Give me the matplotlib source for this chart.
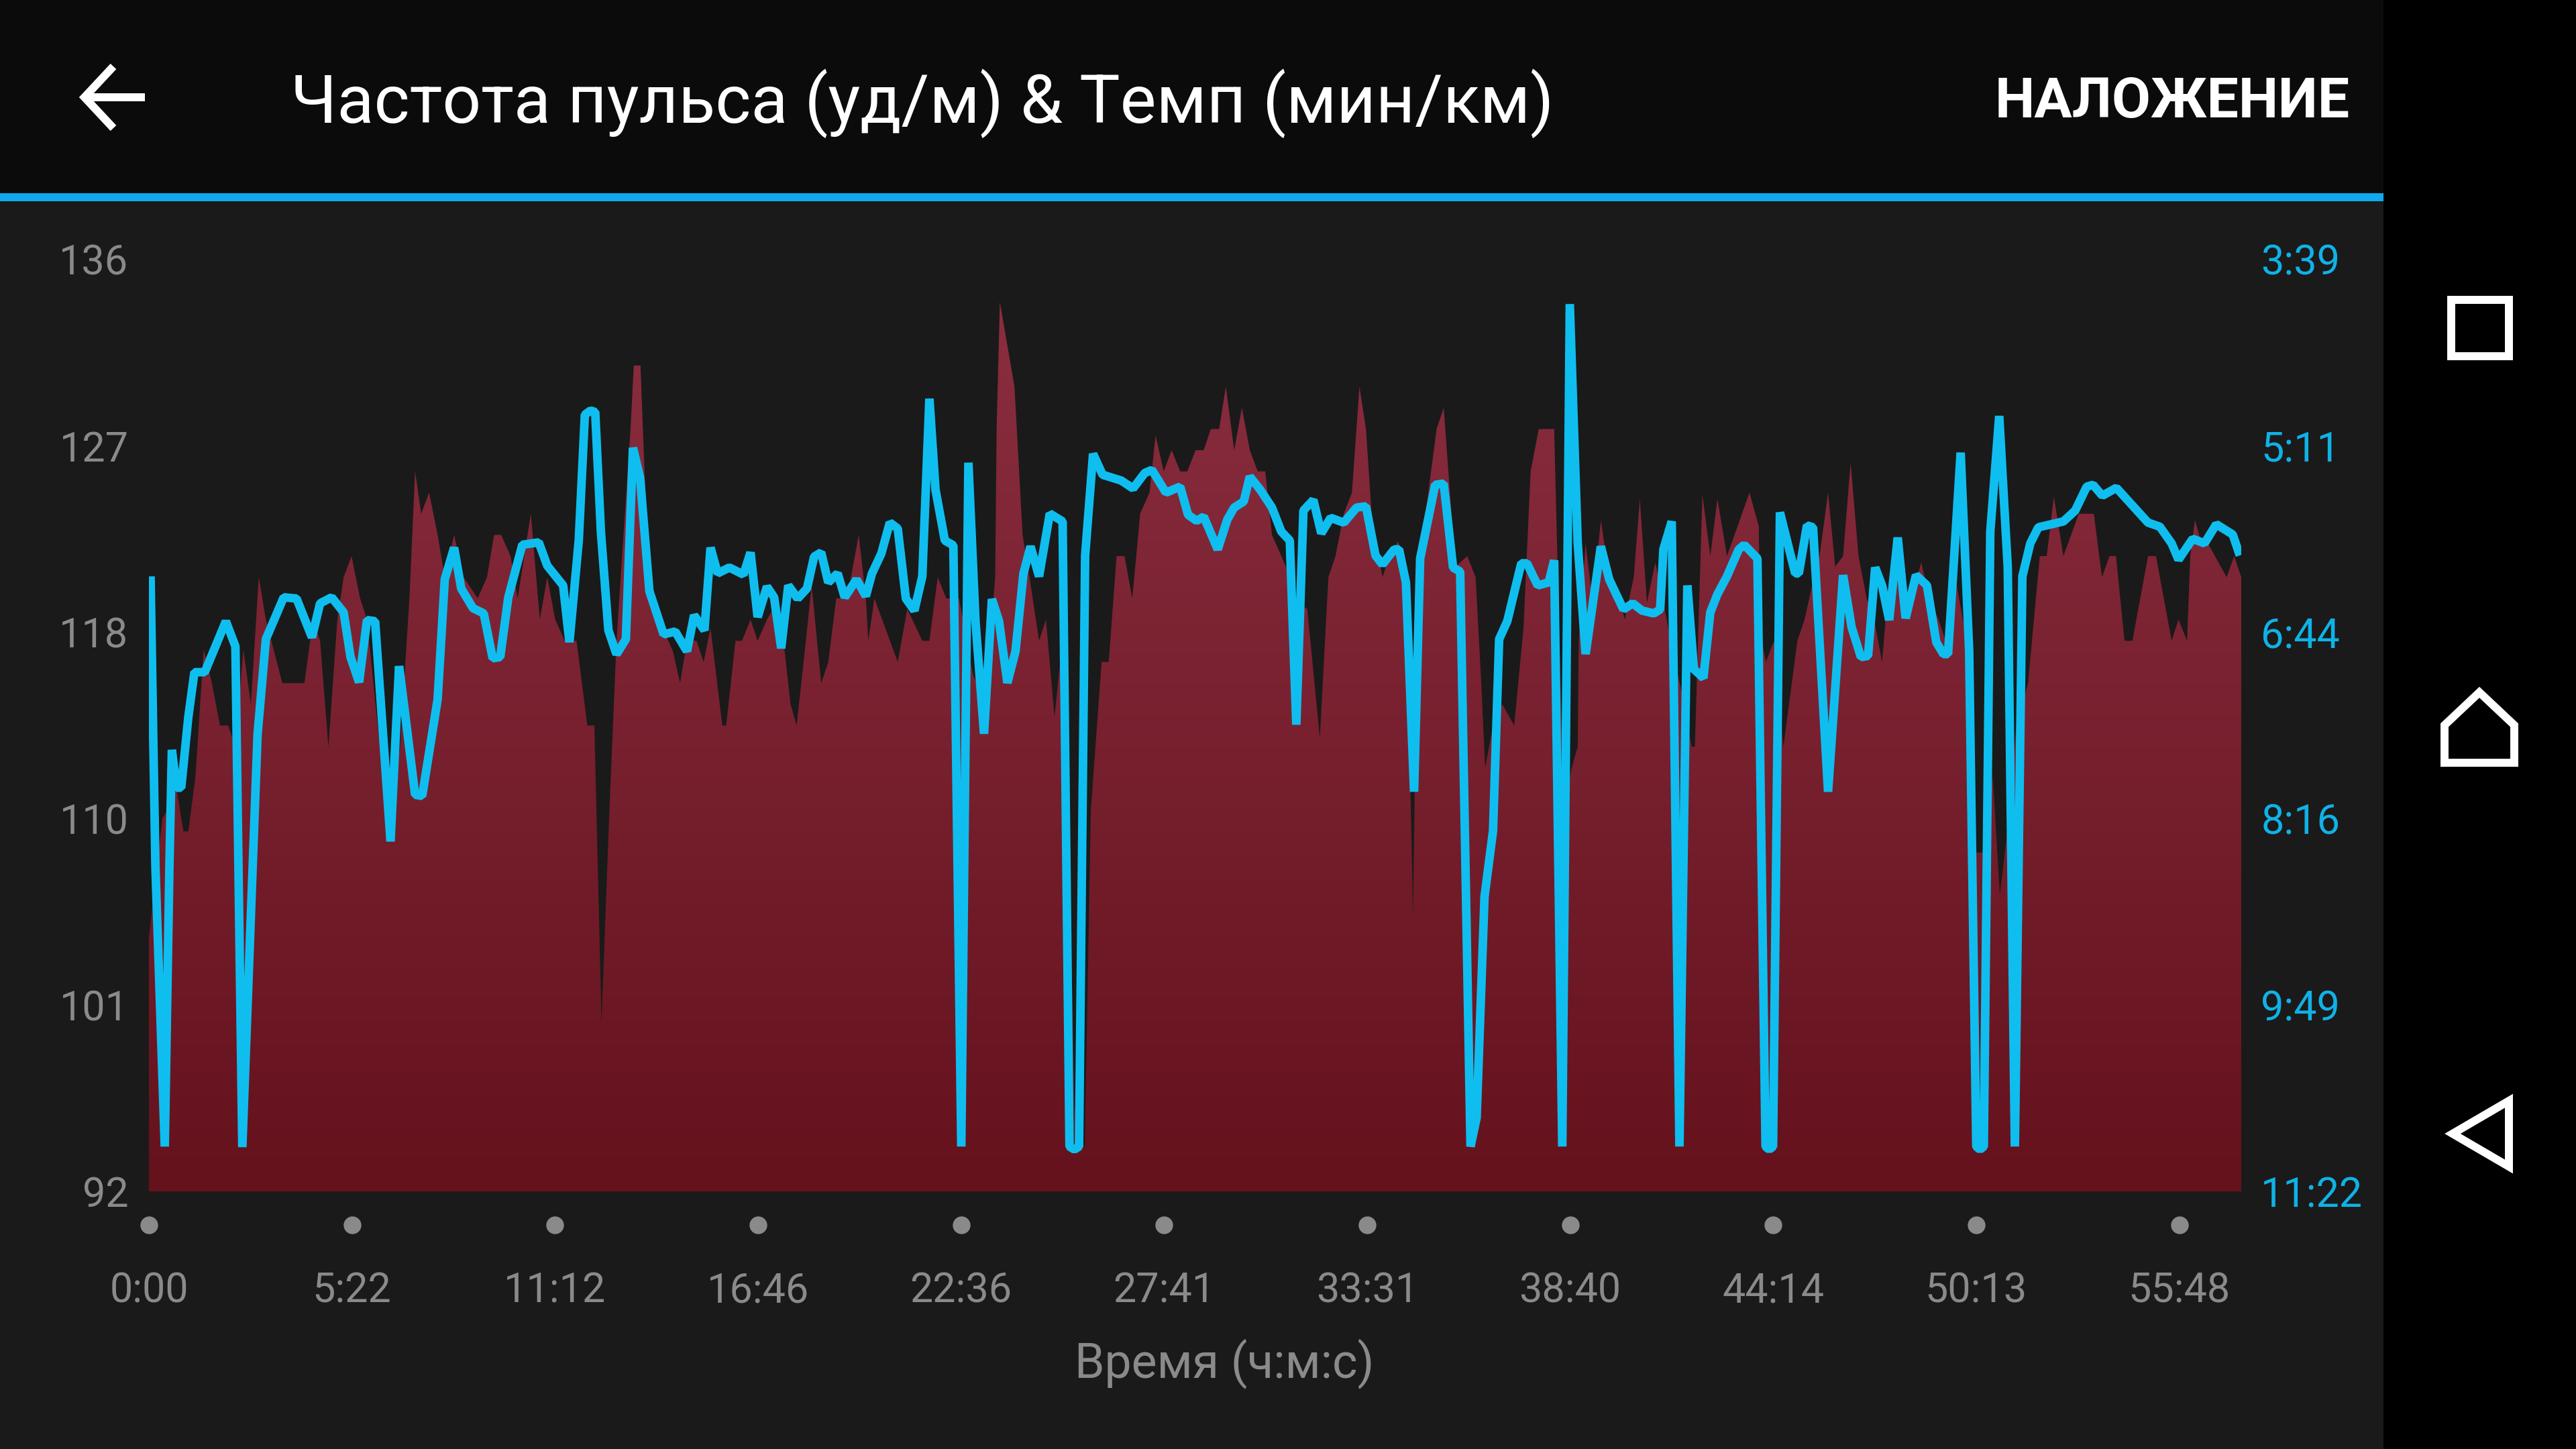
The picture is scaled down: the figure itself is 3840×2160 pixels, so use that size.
#!/usr/bin/env python3
import matplotlib

matplotlib.use("Agg")
import matplotlib.pyplot as plt
import numpy as np
from matplotlib.colors import LinearSegmentedColormap
from matplotlib.patches import Polygon, Rectangle

plt.rcParams["font.family"] = ["Roboto", "DejaVu Sans"]

TITLE = "Частота пульса (уд/м) & Темп (мин/км)"
ACTION = "НАЛОЖЕНИЕ"
X_LABEL = "Время (ч:м:с)"

# x axis is sample based, the time labels are not evenly spaced in real time
TIME_TICKS = [0, 100, 200, 300, 400, 500, 600, 700, 800, 900, 1000]
TIME_LABELS = ["0:00", "5:22", "11:12", "16:46", "22:36", "27:41", "33:31", "38:40", "44:14", "50:13", "55:48"]
X_END = 1030.5

HR_TICKS = [92, 100.8, 109.6, 118.4, 127.2, 136]
HR_LABELS = ["92", "101", "110", "118", "127", "136"]
PACE_TICKS = [682, 589.4, 496.8, 404.2, 311.6, 219]
PACE_LABELS = ["11:22", "9:49", "8:16", "6:44", "5:11", "3:39"]

hr_x = [
    0, 6.6, 9, 13.6, 17, 19.4, 22.9, 27, 31, 35, 39, 42.6, 46.5, 50.2, 54.1, 57.6, 65.7, 76.6, 80.8, 84.3,
    88.4, 92.8, 95.9, 99.8, 104, 107.4, 113.2, 119, 123.7, 128.3, 131.1, 134.1, 138, 142.2, 145.7, 150.3,
    155, 161.9, 166.5, 170, 173.5, 178.1, 181.6, 188.1, 192.5, 196.2, 200.1, 204.8, 210.6, 215.9, 219.4,
    222.9, 226.8, 230.3, 237.2, 238.8, 242.1, 244.2, 247.7, 253.5, 258.1, 261.6, 265, 269.7, 273.2, 276.6,
    282.4, 284.3, 288.9, 292.1, 296.3, 299.8, 304.4, 310.2, 316, 319, 323, 326.4, 331.1, 334.6, 338.5,
    343.8, 349.6, 353.1, 354.3,
    357.3, 368.8, 373.5, 380.9, 384.4, 388.5, 392.7, 399, 405.9, 411.7, 416.8, 417.5, 419.1, 426.3, 430.3,
    433.7, 438.4, 441.8, 446, 448.8, 452.3, 455.8, 460.9, 463.9, 469.2, 472.7, 476.6, 480.5, 484.3, 488.2,
    492.8, 495.8, 499.8, 503.7, 507.9, 511.4, 515.5, 519.5, 523, 527.1, 530.4, 534.5, 538.3, 542.2, 546.1,
    549.8, 553.1, 560, 565.8, 570.5, 576.7, 580.9, 584.4, 588.5, 592.5, 596.2, 599.4, 602.2, 607.5, 611,
    615.2, 619.1, 622.6, 624.9, 626, 634.2, 637.7, 640, 643.5, 649.3, 653.4, 656.2, 658.1, 662, 666.6,
    672.4, 677, 680.5, 684.5, 692.1, 696.8, 700.7, 703.7,
    704.2, 707.6, 711.1, 715.1, 719.2, 722.7, 726.9, 731.3, 734.3, 737.8, 741.9, 745.9, 750.5, 755.1,
    759.8, 761.4, 765.1, 769, 772.5, 777.2, 788.3, 792.9, 793.4, 796.4, 800.3, 805, 811.9, 815.4, 818.9,
    822.8, 827, 830.5, 834.4, 838.1, 842, 846, 849.7, 853.6, 857.1, 860.6, 865.2, 872.9, 876.8, 881.4,
    884.9, 889.6, 894.2, 900, 903.5, 908.1, 911.6, 915, 919.7, 925.5, 927.8, 931.3, 934.7, 938.2, 942.9,
    950.5, 957.9, 961.9, 965.6, 968.8, 973, 976.9, 984.6, 988.5, 996.2, 999.6, 1003.8, 1005.4, 1007.7,
    1011.2, 1014.7, 1023.3, 1027, 1030.5,
]
hr_bpm = [
    104, 109.6, 110, 111, 109, 109, 111.6, 117.6, 116, 114, 114, 113, 117.6, 115, 121, 119, 116, 116, 119,
    118, 113, 119, 121, 122, 120, 119, 113.5, 110, 113, 120, 126, 124, 125, 123, 121, 123, 121, 120, 121,
    123, 123, 122, 120, 124, 119, 121, 119, 118, 118, 114, 114, 100, 110, 118, 128, 131, 131, 125.7, 120,
    118.5, 117.5, 116, 118, 118, 117, 118.6, 114, 114, 118, 118, 119, 118, 119, 120, 115, 114, 117.5, 120.6,
    116, 117, 120, 120, 123, 120, 118,
    120, 117, 119.5, 118, 118, 121, 120, 120, 116.4, 115, 121, 128, 134, 130, 123, 121, 118, 119, 114.4,
    117, 113, 96, 94, 110, 117, 117, 122, 122, 120, 124, 125, 127.7, 126, 127, 126, 126, 127, 127, 128,
    128, 130, 127, 129, 127, 126, 126, 123, 121.5, 119.8, 119.5, 113.4, 121, 122, 124, 125, 130, 128, 124,
    121, 122, 122.7, 121.5, 105, 121.5, 122, 128, 129, 126, 121.5, 122, 121, 116, 112, 114, 115, 114, 118.6,
    126, 128, 128, 110, 112, 113,
    118, 122.6, 119.8, 123.7, 121, 120.7, 119, 121, 124.7, 119.8, 121.7, 119.8, 117.5, 115.5, 113, 113,
    124.9, 122, 124.7, 122, 125, 123.4, 118.5, 117, 118, 113, 118, 119, 120.5, 122, 125, 121.5, 122, 126.4,
    122, 120, 119, 117, 121, 121, 119, 121.7, 120, 119, 118, 121, 118.6, 108, 108, 111.6, 106, 108.8, 114,
    116, 118.4, 122, 122, 124.8, 122, 124, 124, 121, 122, 122, 118, 118, 122, 122, 118, 119, 118, 122,
    123.7, 122.5, 122.5, 121, 122, 121,
]

pace_x = [
    0.8, 3.2, 7.8, 10.1, 11.3, 13.6, 15.9, 19.4, 22.4, 27.5, 37.9, 42.6, 46, 53.5, 57.6, 66.4, 72.7, 80.3,
    84.3, 90, 95.9, 99.3, 103.5, 107.4, 111.4, 119, 123.2, 126, 131.1, 134.6, 142.2, 145.7, 150.3, 153.8,
    159.6, 164.9, 169.3, 173, 177, 183.9, 192, 196.2, 204, 207.1, 211.7, 214.7, 217.5, 219.8, 222.6, 226.3,
    230.3, 234.9, 238.4, 241.9, 246.5, 253.5, 259.2, 265, 268.5, 273.6, 276.6, 280.1, 285.9, 292.8, 296.3,
    299.8, 304.4, 307.9, 311.4, 314.9, 319.5, 324.1, 327.6, 331.1, 334.6, 339.2, 342.7, 348.5, 353.1,
    356.1, 360.7, 364.9, 368.8, 372.8, 377, 380.9, 384.4, 387.4, 392, 396.2, 400.1, 403.6, 407.1, 411.3,
    415.2, 418.7, 422.8, 426.8, 430.7, 434.2, 438.4, 443.7, 450, 453.4, 455.8, 458.1, 461.1, 465, 469.7,
    478.9, 484.7, 490.5, 494, 500.9, 507.9, 511.8, 516, 519.5, 526.4, 531.1, 534.5, 539.2, 542.2, 547.3,
    553.1, 557.7, 561.9, 565.1, 568.6, 573.5, 577.4, 582, 588.5, 594.8, 599.4, 604.1, 607.5, 613.3, 615.7,
    619.1, 623.1, 626.1, 633.5, 637.7, 642.3, 645.8, 650.9, 653.9, 657.8, 662, 665, 669, 675.9, 678.7, 684,
    689.4, 692.1, 696.1, 699.8, 703.7,
    707.6, 715.1, 719.2, 726.2, 730.8, 735.4, 741.2, 744.3, 745.9, 750, 753.8, 757.7, 760.9, 765.6, 769,
    772.5, 777.2, 783, 785.7, 792.2, 796.2, 798, 799.9, 803.3, 810.8, 812.6, 816.6, 819.6, 827, 834.4,
    838.6, 843.2, 846.7, 850.2, 853.6, 857.1, 861.3, 865.2, 870.3, 875.7, 880.3, 883.8, 886.1, 892.3, 896.5,
    900, 901.8, 903.7, 906.9, 911.3, 915.5, 919, 922.7, 926.6, 930.6, 942.9, 948.7, 954.4, 957.5, 962.1,
    969, 984.6, 990.4, 996.2, 999.6, 1006.6, 1012.4, 1018.2, 1026.3, 1029.8,
]
pace_sec = [
    376.4, 520.6, 659.7, 520, 462.6, 481.4, 481.4, 446.3, 424, 424, 398.7, 411.2, 660, 455, 407.6, 386.8,
    387.4, 406.7, 389.8, 386.8, 394.3, 416.5, 429, 398.1, 398.7, 508.1, 421, 443.3, 484.9, 485.5, 437.4,
    377.9, 362.1, 382.4, 392.2, 394.8, 417.1, 416.5, 386.8, 360.7, 359.5, 371.1, 380.9, 409.1, 358.6, 296.1,
    294, 294.7, 354.1, 403.2, 415.1, 407.6, 312.5, 327.4, 383.8, 405.2, 403.8, 413.6, 395.7, 403.2, 362.1,
    374.9, 372, 375.5, 364.5, 396.6, 381.5, 386.8, 412.1, 380.9, 387.4, 382.4, 366.6, 364.5, 379.4, 374.9,
    386.8, 377.9, 386.2,
    375, 365.1, 349.7, 352.6, 387.4, 393.4, 376.4, 288.1, 333.3, 358.6, 361, 659.7, 319.9, 398.7, 454.6,
    387.7, 398.7, 429.3, 413.6, 375, 361.5, 376.4, 345.2, 349.1, 659.7, 661.2, 659.7, 366, 315.5, 325.9,
    328.8, 332.7, 325, 323.5, 334.8, 331.8, 345.8, 348.8, 346.7, 363, 348.2, 342.2, 339.2, 326.8, 333.3,
    342.2, 354.1, 358.6, 450.1, 343.7, 338.4, 355, 347.3, 349.7, 342.2, 341.6, 366, 370.5, 363, 363, 379.4,
    483.4, 367.5, 330.9, 330.3, 372, 374, 659.7, 645.5, 535.5, 502.8, 407.6, 398.7, 369.9, 369.9, 380.9,
    379.4, 368.4, 659.7, 241.1, 360,
    415, 361.5, 377.9, 392.8, 389.8, 393.4, 394.8, 392.8, 363, 349.1, 659.7, 380.9, 422.5, 426.9, 394.3,
    385.3, 376.4, 363, 360.7, 367.5, 659.7, 661.2, 659.7, 344.6, 374.9, 374.9, 351.1, 352, 483.4, 375.8,
    401.7, 416.5, 415.9, 372, 380.9, 398.1, 357.1, 397.2, 375.8, 380.9, 409.1, 415, 415, 314.9, 413.6,
    659.7, 661.2, 659.7, 354.1, 296.7, 372, 659.7, 376.4, 360, 352, 349.1, 343.7, 331.8, 330.9, 336.3,
    332.4, 349.7, 351.7, 360, 368.1, 357.7, 360, 350.5, 355.6, 366,
]

W, H = 3840, 2160
fig = plt.figure(figsize=(19.2, 10.8), dpi=200, facecolor="#000000")

# screen chrome, drawn in pixel coordinates
ui = fig.add_axes([0, 0, 1, 1], zorder=0)
ui.set_xlim(0, W)
ui.set_ylim(H, 0)
ui.axis("off")
ui.add_patch(Rectangle((0, 0), 3553, 288, facecolor="#0B0B0B", edgecolor="none"))
ui.add_patch(Rectangle((0, 300), 3553, 1860, facecolor="#1A1A1A", edgecolor="none"))
ui.add_patch(Rectangle((0, 288), 3553, 12, facecolor="#10A8EE", edgecolor="none"))
ui.plot([216, 126], [145, 145], color="white", lw=4.3, solid_capstyle="butt")
ui.plot([169, 126, 169], [99, 145, 191], color="white", lw=4.3, solid_joinstyle="miter", solid_capstyle="butt")
ui.add_patch(Rectangle((3654, 447), 86, 84, fill=False, edgecolor="white", lw=4.3))
ui.add_patch(Polygon([(3644, 1137), (3644, 1081), (3696, 1032), (3748, 1081), (3748, 1137)], closed=True,
                     fill=False, edgecolor="white", lw=4.3))
ui.add_patch(Polygon([(3740, 1641), (3740, 1739), (3656, 1690)], closed=True, fill=False, edgecolor="white", lw=4.3))
ui.text(433, 154, TITLE, color="white", fontsize=36.5, va="center", ha="left")
ui.text(3503, 152, ACTION, color="white", fontsize=30.2, fontweight="bold", va="center", ha="right")
ui.text(1825, 2033, X_LABEL, color="#8A8A8A", fontsize=25.8, va="center", ha="center")

ax = fig.add_axes([222 / W, 1 - 1776 / H, (3341 - 222) / W, (1776 - 387) / H], zorder=1)
ax.patch.set_visible(False)

cmap = LinearSegmentedColormap.from_list("hr", ["#8A2E40", "#65121D"])
img = ax.imshow(np.linspace(0, 1, 256).reshape(-1, 1), cmap=cmap, aspect="auto",
                extent=[0, X_END, 92, 134], origin="upper", zorder=1)
shape = ax.fill_between(hr_x, hr_bpm, 92, facecolor="none", edgecolor="none")
img.set_clip_path(shape.get_paths()[0], transform=ax.transData)

ax.set_xlim(0, X_END)
ax.set_ylim(92, 136)
ax.set_yticks(HR_TICKS, HR_LABELS)
ax.set_xticks(TIME_TICKS, TIME_LABELS)
ax.tick_params(axis="y", length=0, pad=11, labelsize=22, labelcolor="#8A8A8A")
ax.tick_params(axis="x", length=0, pad=43, labelsize=22, labelcolor="#8A8A8A")
for spine in ax.spines.values():
    spine.set_visible(False)

# tick dots under the plot area
ax.plot(TIME_TICKS, [-0.036] * len(TIME_TICKS), linestyle="none", marker="o", ms=9.5, color="#8A8A8A",
        markeredgecolor="none", transform=ax.get_xaxis_transform(), clip_on=False)

ax2 = ax.twinx()
ax2.plot(pace_x, pace_sec, color="#0FBEEF", lw=4.6, solid_joinstyle="bevel", solid_capstyle="butt", zorder=3)
ax2.set_ylim(682, 219)
ax2.set_yticks(PACE_TICKS, PACE_LABELS)
ax2.tick_params(axis="y", length=0, pad=10.5, labelsize=22, labelcolor="#0FB2E6")
for spine in ax2.spines.values():
    spine.set_visible(False)

fig.savefig("out.png", dpi=200, facecolor=fig.get_facecolor())
